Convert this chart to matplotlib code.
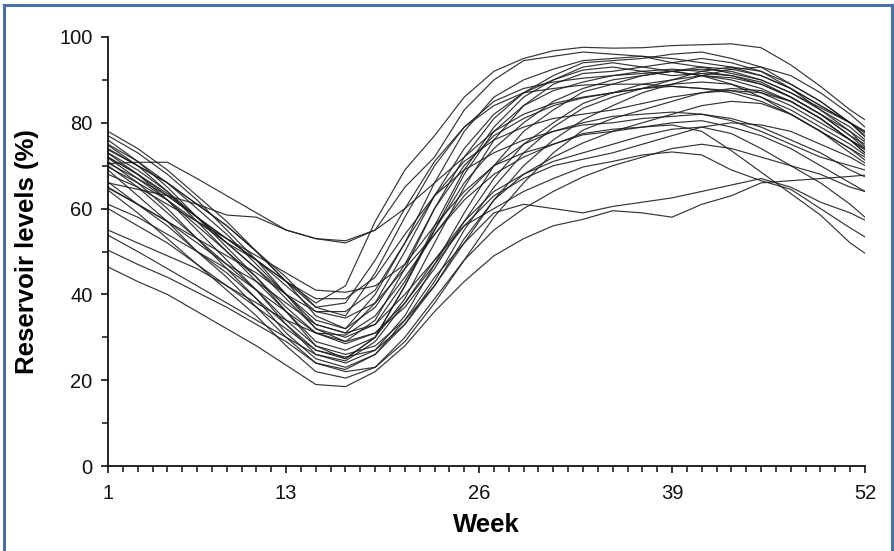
import matplotlib
matplotlib.use("Agg")
import matplotlib.pyplot as plt
from matplotlib.lines import Line2D
from matplotlib.ticker import MultipleLocator, FixedLocator

plt.rcParams['font.family'] = ['Liberation Sans', 'DejaVu Sans']

# weekly sampling used for every reservoir trace
weeks = [1, 3, 5, 7, 9, 11, 13, 15, 17, 19, 21, 23, 25, 27, 29, 31, 33,
         35, 37, 39, 41, 43, 45, 47, 49, 51, 52]

# reservoir level (%) per year, one list per trace
lvl_a = [72, 68, 63.5, 58, 53, 48, 43, 38, 42, 57, 69, 77, 86, 92, 95, 96.8, 97.6,
         97.4, 97.5, 98, 98.2, 98.4, 97.5, 93.5, 88.5, 83, 80.7]
lvl_b = [70.5, 70.8, 70.8, 67, 63, 59, 55, 53, 52, 55, 65, 72, 83, 90, 94.5, 95.5, 96.5,
         96, 95.5, 94, 93, 91.5, 90, 87, 83.5, 80, 78]
lvl_c = [66, 64.5, 63, 61, 58.5, 58, 55, 53, 52.5, 55, 60, 66, 72, 78, 82, 84.5, 86,
         87, 88, 89, 89.5, 89, 87, 84, 80, 76, 74]
lvl_d = [78, 74, 69, 63, 57, 50, 43, 35, 32, 40, 52, 66, 78, 86, 90, 92.5, 94.5,
         95, 95.5, 95, 94, 93, 91, 88, 84, 80, 78]
lvl_e = [77, 73, 68, 62, 55, 48, 40, 32, 29, 34, 46, 60, 72, 81, 87, 91, 94,
         94.5, 95, 96, 96.5, 95, 93, 89, 85, 80, 77]
lvl_f = [76, 71, 65, 58, 51, 44, 36, 28, 25, 30, 42, 56, 69, 79, 86, 90, 93,
         94, 93, 92, 92.5, 92, 90, 87, 83, 79, 76]
lvl_g = [75, 71, 66, 60, 54, 47, 40, 33, 31, 38, 50, 63, 74, 82, 87, 90, 92.3,
         93, 92, 91, 91.5, 91, 89, 86, 82, 77, 75]
lvl_h = [74.8, 70, 64, 57, 50, 43, 36, 29, 27, 30, 39, 52, 65, 76, 84, 89, 91.5,
         92, 93, 94, 95, 94, 92, 88, 83, 78, 74.4]
lvl_i = [74, 70, 66, 61, 56, 50, 44, 37, 35, 45, 58, 70, 79, 85, 88, 89.5, 90.4,
         91, 91.5, 92, 91, 90, 88, 85, 81, 76, 73]
lvl_j = [73.7, 70, 66, 61, 56, 50, 43, 37, 38, 48, 60, 71, 79, 84, 87, 88, 88.8,
         89, 89, 88.5, 88, 87.5, 86, 83, 79, 75, 72.5]
lvl_k = [73, 69, 64, 58, 52, 46, 39, 32, 30, 33, 43, 55, 66, 74, 80, 85, 88,
         90, 91, 92, 91, 89, 86, 82, 78, 74, 71.3]
lvl_l = [72.9, 68, 62, 55, 48, 41, 33, 26, 24, 27, 35, 47, 59, 70, 78, 83, 87.2,
         89, 91, 92, 93, 92.5, 91, 88, 84, 80, 76.7]
lvl_m = [72, 68, 63, 58, 52, 46, 40, 34, 32, 37, 47, 60, 70, 77, 81, 84, 85.8,
         87, 88, 88.5, 88, 87, 85, 82, 78, 73, 70.6]
lvl_n = [71.8, 67, 62, 56, 50, 44, 37, 31, 29, 31, 37, 46, 57, 67, 75, 80, 84.5,
         87, 89, 90, 91, 90.5, 89, 86, 82, 78, 75.5]
lvl_o = [71, 66, 60, 53, 46, 39, 31, 25, 23, 26, 33, 43, 55, 65, 73, 79, 83.4,
         86, 88, 90, 92, 93, 92, 89, 85, 80, 77.6]
lvl_p = [70.6, 67, 63, 58, 53, 48, 42, 36, 36, 41, 52, 63, 71, 76, 79, 81, 82,
         83, 84.5, 86, 87, 87.5, 87, 85, 81, 76, 73.7]
lvl_q = [70, 65, 59, 53, 47, 41, 34, 28, 26, 28, 34, 42, 52, 62, 70, 76, 80.7,
         84, 87, 89, 91, 92.5, 93, 91, 87, 82, 79]
lvl_r = [69.7, 66, 62, 57, 52, 48, 43, 39, 39, 44, 54, 63, 69, 73, 76, 78, 79.5,
         80, 81, 81.5, 82, 81, 79, 76, 73, 69, 67.4]
lvl_s = [69, 63, 57, 50, 44, 37, 30, 24, 22, 23, 29, 38, 48, 58, 66, 73, 78.3,
         81, 83, 85, 87, 88, 87.5, 85, 81, 76, 73]
lvl_t = [68, 65, 61, 57, 53, 49, 45, 41, 40.5, 42, 47, 56, 64, 70, 73, 75, 77.2,
         78, 79, 80, 80.5, 79, 77, 74, 70, 66, 64]
lvl_u = [66.2, 61, 56, 50, 45, 39, 33, 27, 25.4, 27, 33, 42, 53, 62, 68, 72, 75.3,
         78, 80, 82, 84, 85, 84.5, 82, 78, 74, 72]
lvl_v = [65, 61, 57, 52, 47, 43, 38, 33, 31, 33, 40, 48, 56, 60, 64, 67, 69.7,
         71, 72.5, 73.2, 72.5, 69, 66.5, 64.5, 60, 55.5, 53.4]
lvl_w = [64.8, 61, 57, 53, 49, 45, 40, 36, 34.5, 38, 46, 54, 62, 68, 72, 75, 77.5,
         78.5, 79, 79.5, 78, 73.5, 68.5, 63.5, 58.5, 52, 49.6]
lvl_x = [64.3, 59, 53, 47, 41, 35, 28, 22, 20.5, 23, 30, 39, 48, 55, 60, 64, 67.4,
         70, 72, 74, 75, 74, 72, 70, 68, 65, 64]
lvl_y = [46.4, 43, 40, 36, 32, 28, 23.5, 19, 18.5, 22, 28, 36, 43, 49, 53, 56, 57.5,
         59.5, 59, 58, 61, 63, 66, 66.5, 67, 67.5, 67.8]
lvl_z = [50.3, 47, 44, 40.5, 37, 33, 29, 24, 22.5, 26, 34, 44, 52, 59, 61, 60, 59,
         60.5, 61.5, 62.5, 64, 65.5, 67, 65, 61.5, 59, 57.3]
lvl_aa = [53.8, 50, 46, 42, 38, 34, 30, 26, 24.5, 29, 38, 48, 57, 64, 68, 71, 73,
          75, 77, 78.5, 79, 77.5, 74, 70, 66, 61, 58]
lvl_ab = [61, 58, 54, 50, 46, 41, 36, 31, 28.5, 31, 38, 47, 56, 63, 67, 70, 71.5,
          73, 75, 77, 79, 80, 79.5, 78, 75, 72, 70]
lvl_ac = [60, 56, 52, 47, 42, 37, 32, 27, 25, 30, 42, 55, 68, 78, 84, 87.5, 89.5,
          91, 92, 92.5, 92, 91, 89.5, 86, 82, 77, 74]
lvl_ad = [55, 52, 49, 46, 42, 38, 34, 31, 30.5, 35, 44, 54, 63, 70, 75, 78, 80,
          81.5, 82, 82.5, 82, 80.5, 78, 75, 72, 70, 69]

traces = [lvl_a, lvl_b, lvl_c, lvl_d, lvl_e, lvl_f, lvl_g, lvl_h, lvl_i, lvl_j,
          lvl_k, lvl_l, lvl_m, lvl_n, lvl_o, lvl_p, lvl_q, lvl_r, lvl_s, lvl_t,
          lvl_u, lvl_v, lvl_w, lvl_x, lvl_y, lvl_z, lvl_aa, lvl_ab, lvl_ac, lvl_ad]

major_weeks = [1, 13, 26, 39, 52]

fig = plt.figure(figsize=(8.95, 5.51), dpi=100)
ax = fig.add_axes([108 / 895, 85 / 551, 757 / 895, 429 / 551])

for lvl in traces:
    ax.plot(weeks, lvl, color='#1e1e1e', lw=0.85, alpha=0.9, solid_joinstyle='round')

ax.set_xlim(1, 52)
ax.set_ylim(0, 100)
ax.spines['top'].set_visible(False)
ax.spines['right'].set_visible(False)
for side in ('left', 'bottom'):
    ax.spines[side].set_linewidth(1.3)
    ax.spines[side].set_color('#111111')

ax.yaxis.set_major_locator(MultipleLocator(20))
ax.yaxis.set_minor_locator(MultipleLocator(10))
ax.xaxis.set_major_locator(FixedLocator(major_weeks))
ax.xaxis.set_minor_locator(MultipleLocator(1))
ax.tick_params(axis='both', which='major', direction='out', length=5, width=1.2,
               labelsize=14.5, colors='#111111')
ax.tick_params(axis='both', which='minor', direction='out', length=4, width=1.1,
               colors='#111111')
ax.tick_params(axis='x', which='major', pad=8)
ax.tick_params(axis='y', which='major', pad=6)

ax.set_xlabel('Week', fontsize=18.5, fontweight='bold', labelpad=7)
ax.set_ylabel('Reservoir levels (%)', fontsize=18.5, fontweight='bold', labelpad=15)

# thin blue frame around the figure
frame_kw = dict(color='#4a6fa8', lw=2.2, transform=fig.transFigure)
fig.add_artist(Line2D([4.5 / 895, 4.5 / 895], [0, 1 - 5 / 551], **frame_kw))
fig.add_artist(Line2D([4.5 / 895, 1 - 2.5 / 895], [1 - 5 / 551, 1 - 5 / 551], **frame_kw))
fig.add_artist(Line2D([1 - 2.5 / 895, 1 - 2.5 / 895], [0, 1 - 5 / 551], **frame_kw))

fig.savefig('out.png', dpi=100)
